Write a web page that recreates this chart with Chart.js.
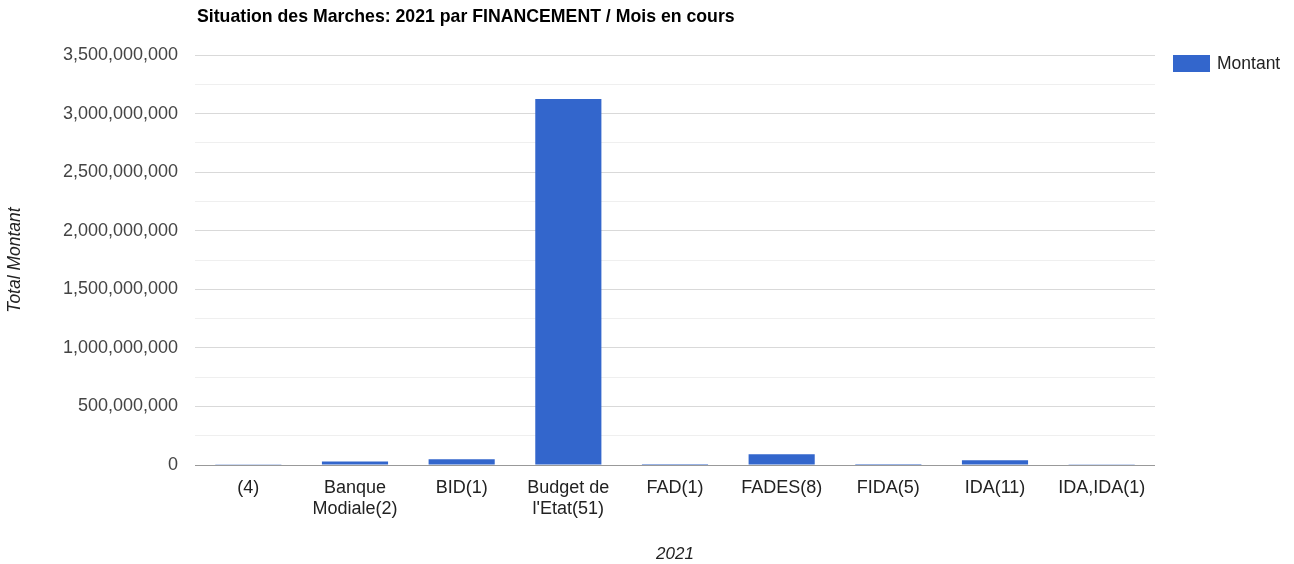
<!DOCTYPE html>
<html>
<head>
<meta charset="utf-8">
<script src="https://cdn.jsdelivr.net/npm/chart.js@4/dist/chart.umd.min.js"></script>
<style>
  html, body { margin: 0; padding: 0; background: #fff; }
  #wrap { width: 1294px; height: 564px; }
</style>
</head>
<body>
<div id="wrap"><canvas id="myChart" width="1294" height="564"></canvas></div>
<script>
const categories = [
    '(4)',
    ['Banque', 'Modiale(2)'],
    'BID(1)',
    ['Budget de', "l'Etat(51)"],
    'FAD(1)',
    'FADES(8)',
    'FIDA(5)',
    'IDA(11)',
    'IDA,IDA(1)',
]

// montants
const montant = [2000000, 30000000, 50000000, 3124000000, 1000000, 91000000, 1000000, 40000000, 1500000]

const yTicks = [0, 500000000, 1000000000, 1500000000, 2000000000, 2500000000, 3000000000, 3500000000]

const FONT = 'Arial, "Liberation Sans", sans-serif'

// titre + legende dessines a la main, comme google charts
const decor = {
    id: 'decor',
    afterDraw(chart) {
        const c = chart.ctx
        const area = chart.chartArea
        c.save()
        c.fillStyle = '#000'
        c.font = 'bold 17.7px ' + FONT
        c.textBaseline = 'middle'
        c.fillText('Situation des Marches: 2021 par FINANCEMENT / Mois en cours', area.left + 2, 17)

        const ds = chart.data.datasets[0]
        c.fillStyle = ds.backgroundColor
        c.fillRect(1173, 55, 37, 17)
        c.fillStyle = '#222'
        c.font = '17.5px ' + FONT
        c.fillText(ds.label, 1217, 64)
        c.restore()
    }
}

const ctx = document.getElementById('myChart').getContext('2d')

const config = {
    type: 'bar',
    data: {
        labels: categories,
        datasets: [
            {
                label: 'Montant',
                data: montant,
                backgroundColor: '#3366cc',
                barPercentage: 0.62,
                categoryPercentage: 1,
            },
        ],
    },
    options: {
        responsive: false,
        animation: false,
        layout: { padding: { top: 55, left: 0, right: 139, bottom: 0 } },
        plugins: {
            legend: { display: false },
            tooltip: { enabled: false },
        },
        scales: {
            x: {
                grid: { display: false },
                border: { display: false },
                ticks: {
                    color: '#222',
                    font: { family: FONT, size: 18 },
                    padding: 4,
                    maxRotation: 0,
                    autoSkip: false,
                },
                title: {
                    display: true,
                    text: '2021',
                    color: '#222',
                    font: { family: FONT, size: 17, style: 'italic' },
                    padding: { top: 0, bottom: 0 },
                },
                afterFit: (scale) => { scale.height = 99 },
            },
            y: {
                min: 0,
                max: 3500000000,
                border: { display: false },
                grid: {
                    drawTicks: false,
                    color: (c) => {
                        if (c.tick.value === 0) return '#999'
                        return yTicks.includes(c.tick.value) ? '#d9d9d9' : '#efefef'
                    },
                },
                ticks: {
                    stepSize: 250000000,
                    color: '#444',
                    font: { family: FONT, size: 18 },
                    padding: 17,
                    callback: function (value) {
                        return yTicks.includes(value) ? value.toLocaleString('en-US') : ''
                    },
                },
                title: {
                    display: true,
                    text: 'Total Montant',
                    color: '#222',
                    font: { family: FONT, size: 17.5, style: 'italic' },
                    padding: { top: 5, bottom: 0 },
                },
                afterFit: (scale) => { scale.width = 195 },
            },
        },
    },
    plugins: [decor],
}

const myChart = new Chart(ctx, config)
</script>
</body>
</html>
